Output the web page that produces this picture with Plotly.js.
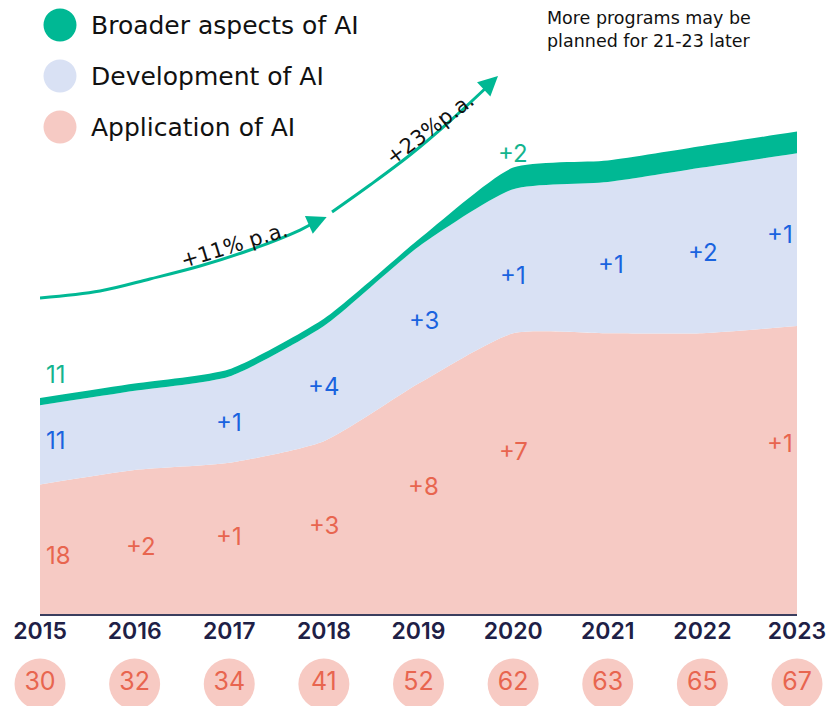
<!DOCTYPE html>
<html>
<head>
<meta charset="utf-8">
<script src="https://cdn.plot.ly/plotly-3.0.1.min.js"></script>
<style>
  html, body { margin: 0; padding: 0; background: #ffffff; }
  #chart { width: 830px; height: 706px; }
</style>
</head>
<body>
<div id="chart"></div>
<script>
// ---------- data ----------
const years = [2015, 2016, 2017, 2018, 2019, 2020, 2021, 2022, 2023];
const applicationAI = [18, 20, 21, 24, 32, 39, 39, 39, 40];
const developmentAI = [11, 11, 12, 16, 19, 20, 21, 23, 24];
const broaderAI     = [1, 1, 1, 1, 1, 3, 3, 3, 3];
const totals        = [30, 32, 34, 41, 52, 62, 63, 65, 67];
const seriesNames   = ['Broader aspects of AI', 'Development of AI', 'Application of AI'];

// labels inside the areas (by year index)
const applicationLabels = ['18', '+2', '+1', '+3', '+8', '+7', '', '', '+1'];
const developmentLabels = ['11', '', '+1', '+4', '+3', '+1', '+1', '+2', '+1'];
const broaderLabels     = ['11', '', '', '', '', '+2', '', '', ''];

// growth arrows
const growthSlowX = [2015.0, 2015.634, 2016.162, 2016.691, 2017.219, 2017.748, 2017.906];
const growthSlowY = [43.89, 44.86, 46.53, 48.33, 50.56, 53.33, 54.44];
const growthFastX = [2018.086, 2018.487, 2018.910, 2019.333, 2019.734];
const growthFastY = [55.83, 59.58, 63.75, 68.47, 73.33];
const growthSlowText = '+11% p.a.';
const growthFastText = '+23%p.a.';
const noteText = 'More programs may be<br>planned for 21-23 later';

// ---------- styles / placement ----------
const FONT = 'Inter, "Open Sans", sans-serif';
const WIDE = '"DejaVu Sans", Inter, sans-serif';
const GREEN = '#00b894';
const DEV_FILL = '#d9e1f4';
const APP_FILL = '#f6cac4';
const GREEN_TXT = '#14b48e';
const BLUE_TXT = '#1a63df';
const RED_TXT = '#e8654f';
const W = 830, H = 706, ML = 40, MR = 33;
const BASE = 614;            // pixel y of zero line
const PX = 7.2;              // pixels per unit
const yOf = (py) => (BASE - py) / PX;
const pw = W - ML - MR;
const pxX = (px) => (px - ML) / pw;
const pxY = (py) => (H - py) / H;     // paper (margin t=b=0)

// label vertical placement (pixel rows) per year index
const appLabelRows   = [555, 546, 536, 525, 486, 451, null, null, 443];
const devLabelRows   = [440, null, 422, 386, 320, 275, 264, 252, 234];
const broadLabelRows = [374, null, null, null, null, 153, null, null, null];
const labelShift     = [4, 6, 0, 0, 5, 0, 3, 1, -2];

const BOTTOM_DOMAIN = 0.1;   // y2 domain for the totals row
const circleRow = (H - 684) / (H * BOTTOM_DOMAIN);

const traces = [
  {
    x: years, y: applicationAI, name: seriesNames[2], stackgroup: 'one',
    mode: 'lines', line: {width: 0, shape: 'spline', smoothing: 0.6},
    fillcolor: APP_FILL, hoverinfo: 'skip'
  },
  {
    x: years, y: developmentAI, name: seriesNames[1], stackgroup: 'one',
    mode: 'lines', line: {width: 0, shape: 'spline', smoothing: 0.6},
    fillcolor: DEV_FILL, hoverinfo: 'skip'
  },
  {
    x: years, y: broaderAI, name: seriesNames[0], stackgroup: 'one',
    mode: 'lines', line: {width: 0, shape: 'spline', smoothing: 0.6},
    fillcolor: GREEN, hoverinfo: 'skip'
  },
  {
    x: growthSlowX, y: growthSlowY, mode: 'lines',
    line: {color: GREEN, width: 3, shape: 'spline'}, hoverinfo: 'skip', cliponaxis: false
  },
  {
    x: growthFastX, y: growthFastY, mode: 'lines',
    line: {color: GREEN, width: 3, shape: 'spline'}, hoverinfo: 'skip', cliponaxis: false
  },
  {
    x: years, y: years.map(() => circleRow), xaxis: 'x2', yaxis: 'y2', mode: 'markers+text',
    text: totals.map(String), textposition: 'middle center',
    textfont: {family: FONT, size: 25, color: RED_TXT},
    marker: {size: 51, color: '#f7cac3', line: {width: 0}},
    cliponaxis: false, hoverinfo: 'skip'
  }
];

const annotations = [];
function addLabels(labels, rows, color) {
  labels.forEach((t, i) => {
    if (!t) return;
    let anchor = 'center';
    if (i === 0) anchor = 'left';
    if (i === years.length - 1) anchor = 'right';
    annotations.push({
      x: years[i], y: yOf(rows[i]), xref: 'x', yref: 'y',
      text: t, showarrow: false, xanchor: anchor, yanchor: 'middle',
      xshift: labelShift[i],
      font: {family: FONT, size: 24, color: color}
    });
  });
}
addLabels(applicationLabels, appLabelRows, RED_TXT);
addLabels(developmentLabels, devLabelRows, BLUE_TXT);
addLabels(broaderLabels, broadLabelRows, GREEN_TXT);

// arrow heads
annotations.push({
  x: 2018.03, y: yOf(217), xref: 'x', yref: 'y', text: '', showarrow: true,
  ax: -16, ay: 7, arrowhead: 2, arrowsize: 1.3, arrowwidth: 3, arrowcolor: GREEN
});
annotations.push({
  x: 2019.84, y: yOf(76), xref: 'x', yref: 'y', text: '', showarrow: true,
  ax: -14, ay: 13, arrowhead: 2, arrowsize: 1.3, arrowwidth: 3, arrowcolor: GREEN
});
// growth texts
annotations.push({
  x: 2017.06, y: yOf(245), xref: 'x', yref: 'y', text: growthSlowText, showarrow: false,
  textangle: -17, font: {family: WIDE, size: 21, color: '#111111'}
});
annotations.push({
  x: 2019.12, y: yOf(129), xref: 'x', yref: 'y', text: growthFastText, showarrow: false,
  textangle: -37, font: {family: WIDE, size: 21, color: '#111111'}
});
// note
annotations.push({
  x: pxX(545), y: pxY(30), xref: 'paper', yref: 'paper', text: noteText, showarrow: false,
  xanchor: 'left', yanchor: 'middle', align: 'left',
  font: {family: WIDE, size: 17.5, color: '#111111'}
});

// custom legend
const legendColors = [GREEN, DEV_FILL, APP_FILL];
const legendRows = [25, 76, 127];
const shapes = [];
seriesNames.forEach((n, i) => {
  shapes.push({
    type: 'circle', xref: 'paper', yref: 'paper',
    x0: pxX(60 - 16.5), x1: pxX(60 + 16.5),
    y0: pxY(legendRows[i] + 16.5), y1: pxY(legendRows[i] - 16.5),
    fillcolor: legendColors[i], line: {width: 0}
  });
  annotations.push({
    x: pxX(89), y: pxY(legendRows[i]), xref: 'paper', yref: 'paper',
    text: n, showarrow: false, xanchor: 'left', yanchor: 'middle',
    font: {family: WIDE, size: 25, color: '#111111'}
  });
});

const layout = {
  width: W, height: H,
  margin: {l: ML, r: MR, t: 0, b: 0, pad: 0},
  paper_bgcolor: '#ffffff', plot_bgcolor: '#ffffff',
  showlegend: false,
  xaxis: {
    range: [2015, 2023], tickvals: years, ticktext: years.map(String), anchor: 'y',
    showgrid: false, zeroline: false, showline: true, linecolor: '#3b3e5e', linewidth: 2,
    ticks: '', tickfont: {family: FONT, size: 23, color: '#1e2046', weight: 600},
    ticklabelstandoff: -5, fixedrange: true
  },
  yaxis: {
    domain: [(H - BASE) / H, 1],
    range: [0, BASE / PX], showgrid: false, zeroline: false, showline: false,
    showticklabels: false, ticks: '', fixedrange: true
  },
  xaxis2: {
    range: [2015, 2023], anchor: 'y2', matches: 'x', visible: false, fixedrange: true
  },
  yaxis2: {
    domain: [0, BOTTOM_DOMAIN], range: [0, 1], visible: false, fixedrange: true
  },
  annotations: annotations,
  shapes: shapes
};

Plotly.newPlot('chart', traces, layout, {displayModeBar: false, staticPlot: true});
</script>
</body>
</html>
